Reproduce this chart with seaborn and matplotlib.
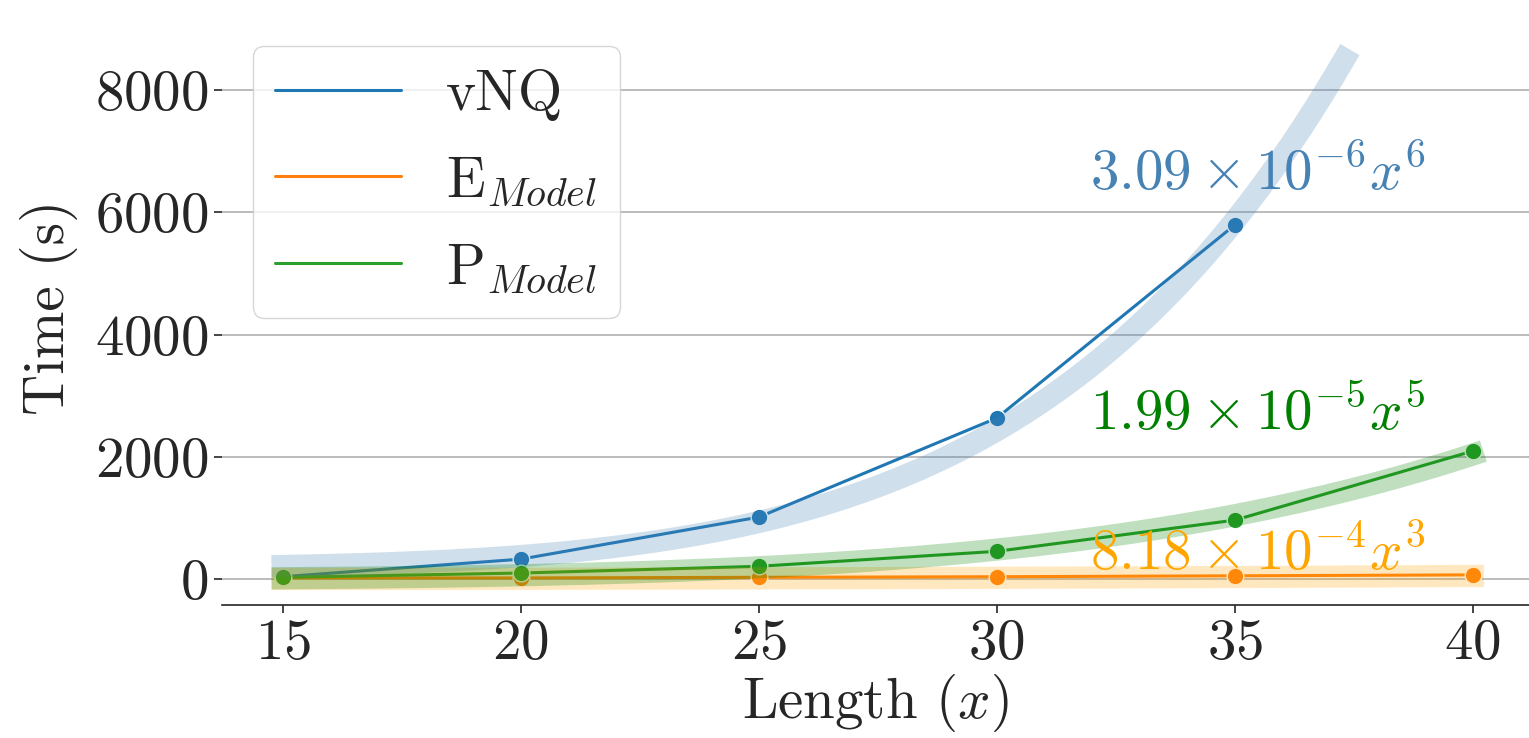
import numpy as np
import pandas as pd
import seaborn as sns
import matplotlib.pyplot as plt
from matplotlib.lines import Line2D

# measured run times (s) per sequence length
lengths = [15, 20, 25, 30, 35, 40]
vnq_time = [40, 327, 1014, 2634, 5791]
e_model_time = [20, 20, 30, 40, 55, 70]
p_model_time = [30, 100, 210, 455, 965, 2094]
series_names = ['vNQ', r'E$_{Model}$', r'P$_{Model}$']

# fitted curves  c * x^k (+ small offset)
fit_coef = [3.09e-6, 8.18e-4, 1.99e-5]
fit_power = [6, 3, 5]
fit_offset = [180, 0, 0]
fit_xmax = [37.3, 40, 40]
fit_labels = [r'$3.09 \times 10^{-6}x^6$', r'$8.18 \times 10^{-4}x^3$', r'$1.99 \times 10^{-5}x^5$']
fit_label_y = [6360, 150, 2440]

sns.set_style('ticks')
plt.rcParams['font.family'] = ['cmr10', 'DejaVu Serif']
plt.rcParams['mathtext.fontset'] = 'cm'
plt.rcParams['axes.unicode_minus'] = False
plt.rcParams['axes.formatter.use_mathtext'] = True

df = pd.DataFrame({
    'Length': lengths[:5] + lengths + lengths,
    'Time': vnq_time + e_model_time + p_model_time,
    'series': [series_names[0]] * 5 + [series_names[1]] * 6 + [series_names[2]] * 6,
})

palette = sns.color_palette('tab10', 3)
fit_colors = ['steelblue', 'orange', 'green']

fig = plt.figure(figsize=(15.29, 7.38), dpi=100)
ax = fig.add_axes([0.145, 0.18, 0.855, 0.806])

sns.lineplot(data=df, x='Length', y='Time', hue='series', palette=palette,
             marker='o', markersize=12, markeredgecolor='white', markeredgewidth=1,
             linewidth=2.2, legend=False, ax=ax)

for c, k, b, xm, col in zip(fit_coef, fit_power, fit_offset, fit_xmax, fit_colors):
    xs = np.linspace(15, xm, 200)
    ax.plot(xs, c * xs ** k + b, color=col, alpha=0.25, linewidth=16,
            solid_capstyle='projecting')

for lab, ly, col in zip(fit_labels, fit_label_y, fit_colors):
    ax.text(31.95, ly, lab, color=col, fontsize=41, ha='left', va='baseline')

ax.set_xlim(13.72, 41.18)
ax.set_ylim(-425, 9300)
ax.set_xticks([15, 20, 25, 30, 35, 40])
ax.set_yticks([0, 2000, 4000, 6000, 8000])
ax.yaxis.grid(True, color='#b0b0b0', linewidth=1.2)
ax.xaxis.grid(False)
ax.tick_params(labelsize=41, length=6, width=1.2)
sns.despine(ax=ax, left=True)
ax.spines['bottom'].set_linewidth(1.2)

ax.set_xlabel(r'Length ($x$)', fontsize=41, labelpad=2)
ax.set_ylabel('Time (s)', fontsize=41, labelpad=12)

handles = [Line2D([], [], color=palette[i], linewidth=2.2) for i in range(3)]
ax.legend(handles, series_names, loc='upper left', bbox_to_anchor=(0.0237, 0.94),
          borderaxespad=0, fontsize=41, frameon=True, edgecolor='0.8',
          handlelength=2.2, labelspacing=0.6)

fig.savefig('out.png', dpi=100)
